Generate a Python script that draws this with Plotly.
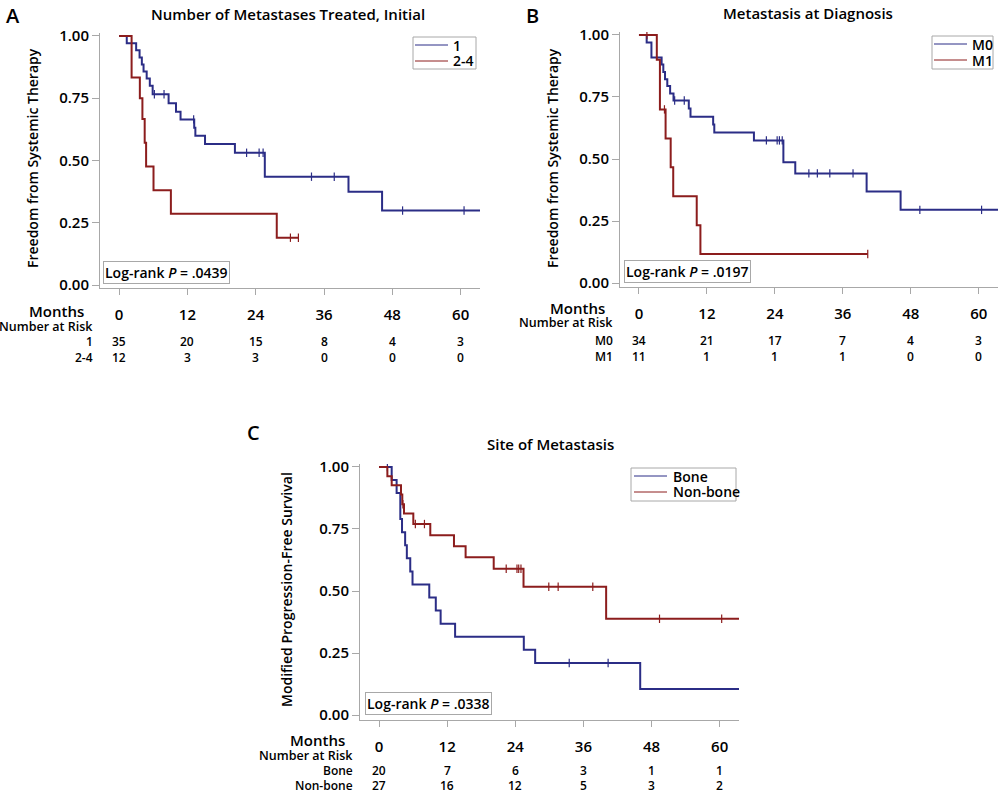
import plotly.graph_objects as go

FONT = "Open Sans"
BLUE = "#2b2d86"
RED = "#8c1d1d"
GRAY = "#a8a8a8"

month_ticks = [0, 12, 24, 36, 48, 60]
surv_ticks = [0, 0.25, 0.5, 0.75, 1.0]

# ---- panel A: number of metastases treated ----
a_names = ["1", "2-4"]
a1_times = [1.35, 3.0, 3.6, 4.0, 4.3, 4.85, 5.4, 5.9, 8.7, 10.0, 10.8, 13.2, 13.4, 15.1, 20.35, 25.6, 40.3, 46.2]
a1_surv = [0.971, 0.943, 0.914, 0.886, 0.857, 0.829, 0.800, 0.766, 0.730, 0.696, 0.665, 0.632, 0.599, 0.566, 0.531, 0.435, 0.375, 0.299]
a1_cens = [6.2, 7.9, 13.1, 22.4, 24.6, 25.3, 33.8, 37.8, 49.8, 60.6]
a1_end = 65
a2_times = [2.2, 3.65, 4.1, 4.5, 4.75, 6.05, 9.1, 27.7]
a2_surv = [0.833, 0.750, 0.667, 0.571, 0.476, 0.381, 0.286, 0.190]
a2_cens = [30.1, 31.5]
a2_end = 31.5
a_risk1 = [35, 20, 15, 8, 4, 3]
a_risk2 = [12, 3, 3, 0, 0, 0]

# ---- panel B: metastasis at diagnosis ----
b_names = ["M0", "M1"]
b1_times = [1.36, 2.2, 4.0, 4.3, 4.6, 5.0, 5.5, 6.1, 8.8, 9.1, 13.1, 13.3, 20.3, 25.5, 27.6, 40.2, 46.2]
b1_surv = [0.970, 0.909, 0.881, 0.851, 0.822, 0.794, 0.764, 0.736, 0.704, 0.670, 0.639, 0.607, 0.575, 0.487, 0.442, 0.369, 0.295]
b1_cens = [6.3, 8.0, 22.5, 24.4, 24.8, 25.3, 30.0, 31.5, 33.7, 37.8, 49.6, 60.5]
b1_end = 65
b2_times = [3.15, 3.7, 4.7, 5.6, 6.05, 10.2, 10.85]
b2_surv = [0.900, 0.700, 0.583, 0.467, 0.350, 0.233, 0.117]
b2_cens = [1.4, 4.5, 40.4]
b2_end = 40.4
b_risk1 = [34, 21, 17, 7, 4, 3]
b_risk2 = [11, 1, 1, 1, 0, 0]

# ---- panel C: site of metastasis ----
c_names = ["Bone", "Non-bone"]
c1_times = [2.23, 3.1, 3.75, 4.05, 4.6, 4.9, 5.5, 5.9, 8.85, 10.0, 10.85, 13.4, 25.5, 27.5, 46.0]
c1_surv = [0.947, 0.895, 0.790, 0.737, 0.684, 0.632, 0.579, 0.526, 0.474, 0.421, 0.368, 0.316, 0.263, 0.210, 0.105]
c1_cens = [1.47, 33.5, 40.35]
c1_end = 65
c2_times = [1.47, 2.23, 3.87, 4.1, 4.4, 6.04, 9.03, 13.2, 15.25, 20.2, 25.45, 40.0]
c2_surv = [0.963, 0.926, 0.889, 0.850, 0.812, 0.770, 0.725, 0.680, 0.636, 0.590, 0.517, 0.388]
c2_cens = [4.2, 6.4, 8.0, 22.4, 24.3, 24.6, 25.0, 29.9, 31.55, 37.65, 49.4, 60.35]
c2_end = 65
c_risk1 = [20, 7, 6, 3, 1, 1]
c_risk2 = [27, 16, 12, 5, 3, 2]


def surv_at(times, surv, t):
    s = 1.0
    for ti, si in zip(times, surv):
        if ti <= t:
            s = si
    return s


fig = go.Figure()


def add_group(times, surv, cens, end, color, name, xa, ya):
    x = [0] + times + [end]
    y = [1.0] + surv + [surv[-1]]
    fig.add_trace(go.Scatter(x=x, y=y, mode="lines", line=dict(color=color, width=2, shape="hv"),
                             xaxis=xa, yaxis=ya, name=name, showlegend=False, hoverinfo="skip"))
    fig.add_trace(go.Scatter(x=cens, y=[surv_at(times, surv, t) for t in cens], mode="markers",
                             marker=dict(symbol="line-ns", size=6, line=dict(color=color, width=1.2)),
                             xaxis=xa, yaxis=ya, showlegend=False, hoverinfo="skip"))


add_group(a1_times, a1_surv, a1_cens, a1_end, BLUE, a_names[0], "x", "y")
add_group(a2_times, a2_surv, a2_cens, a2_end, RED, a_names[1], "x", "y")
add_group(b1_times, b1_surv, b1_cens, b1_end, BLUE, b_names[0], "x2", "y2")
add_group(b2_times, b2_surv, b2_cens, b2_end, RED, b_names[1], "x2", "y2")
add_group(c1_times, c1_surv, c1_cens, c1_end, BLUE, c_names[0], "x3", "y3")
add_group(c2_times, c2_surv, c2_cens, c2_end, RED, c_names[1], "x3", "y3")

W = 1000.0
H = 793.0


def px_(x):
    return x / W


def py(y):
    return 1 - y / H


def xax(domain, anchor):
    return dict(domain=domain, range=[-3.35, 63.4], tickvals=month_ticks, ticks="outside", ticklen=6,
                tickcolor=GRAY, showline=True, linecolor=GRAY, linewidth=1, showgrid=False,
                zeroline=False, anchor=anchor, ticklabelstandoff=7, tickfont=dict(size=15))


def yax(domain, anchor, rng):
    return dict(domain=domain, range=rng, tickvals=surv_ticks, tickformat=".2f", ticks="outside",
                ticklen=7, tickcolor=GRAY, showline=True, linecolor=GRAY, linewidth=1, showgrid=False,
                zeroline=False, anchor=anchor, tickfont=dict(size=15))


fig.update_layout(
    width=1000, height=793, margin=dict(l=0, r=0, t=0, b=0, autoexpand=False),
    paper_bgcolor="white", plot_bgcolor="white", showlegend=False,
    font=dict(family=FONT, size=14, color="black", weight=600),
    xaxis=xax([0.100, 0.480], "y"),
    yaxis=yax([py(288), py(33)], "x", [-0.012, 1.012]),
    xaxis2=xax([0.620, 0.998], "y2"),
    yaxis2=yax([py(287), py(32)], "x2", [-0.016, 1.012]),
    xaxis3=xax([0.360, 0.739], "y3"),
    yaxis3=yax([py(720), py(464)], "x3", [-0.02, 1.012]),
)

ann = []
shapes = []


def txt(x, y, s, size=14, xanchor="center", xref="paper", angle=0, yanchor="middle"):
    ann.append(dict(x=x, y=y, xref=xref, yref="paper", text=s, showarrow=False, xanchor=xanchor,
                    yanchor=yanchor, textangle=angle, font=dict(size=size)))


# keys drawn as boxed line samples (box edges, line span, text x, row y's in pixels)
keys = [
    ((413, 476, 37, 69), (415, 448), 451, (45, 61), a_names),
    ((932, 993, 36, 69), (934, 967), 970, (44, 60), b_names),
    ((631, 736, 468, 501), (634, 667), 671, (476, 492), c_names),
]
for (x0, x1, y0, y1), (l0, l1), tx, rows, names in keys:
    shapes.append(dict(type="rect", xref="paper", yref="paper", x0=px_(x0), x1=px_(x1), y0=py(y1), y1=py(y0),
                       line=dict(color=GRAY, width=1), fillcolor="white", layer="above"))
    for yy, nm, col in zip(rows, names, [BLUE, RED]):
        shapes.append(dict(type="line", xref="paper", yref="paper", x0=px_(l0), x1=px_(l1), y0=py(yy), y1=py(yy),
                           line=dict(color=col, width=1), layer="above"))
        txt(px_(tx), py(yy), nm, size=14, xanchor="left")

# panel letters and titles
txt(0.013, 1.0, "A", size=20, yanchor="top")
txt(0.532, 1.0, "B", size=20, yanchor="top")
txt(0.253, py(417), "C", size=20, yanchor="top")
txt(0.288, py(14), "Number of Metastases Treated, Initial", size=15)
txt(0.808, py(13), "Metastasis at Diagnosis", size=15)
txt(0.550, py(444), "Site of Metastasis", size=15)

# y-axis titles
txt(0.032, py(158), "Freedom from Systemic Therapy", angle=-90)
txt(0.552, py(158), "Freedom from Systemic Therapy", angle=-90)
txt(0.286, py(590), "Modified Progression-Free Survival", angle=-90)

# log-rank boxes
for x0, ybot, p in [(103, 284, ".0439"), (624, 283, ".0197"), (365, 715, ".0338")]:
    ann.append(dict(x=px_(x0), y=py(ybot), xref="paper", yref="paper", xanchor="left", yanchor="bottom",
                    text="Log-rank <i>P</i> = " + p, showarrow=False, bordercolor=GRAY, borderwidth=1,
                    borderpad=1, bgcolor="white", font=dict(size=14)))

# number-at-risk tables
tables = [
    ("x", 86, 95, [311, 326, 341, 357], a_names, [a_risk1, a_risk2]),
    ("x2", 607, 615, [308, 323, 340, 356], b_names, [b_risk1, b_risk2]),
    ("x3", 347, 355, [740, 755, 770, 785], c_names, [c_risk1, c_risk2]),
]
for xr, mx, lx, ys, names, risks in tables:
    txt(px_(mx), py(ys[0]), "Months", size=15, xanchor="right")
    txt(px_(lx), py(ys[1]), "Number at Risk", size=12.5, xanchor="right")
    for k in range(2):
        txt(px_(lx), py(ys[2 + k]), names[k], size=12, xanchor="right")
        for t, n in zip(month_ticks, risks[k]):
            txt(t, py(ys[2 + k]), str(n), size=12, xref=xr)

fig.update_layout(annotations=ann, shapes=shapes)
fig.write_html("out.html", config={"displayModeBar": False},
               post_script="document.body.style.margin='0';")
